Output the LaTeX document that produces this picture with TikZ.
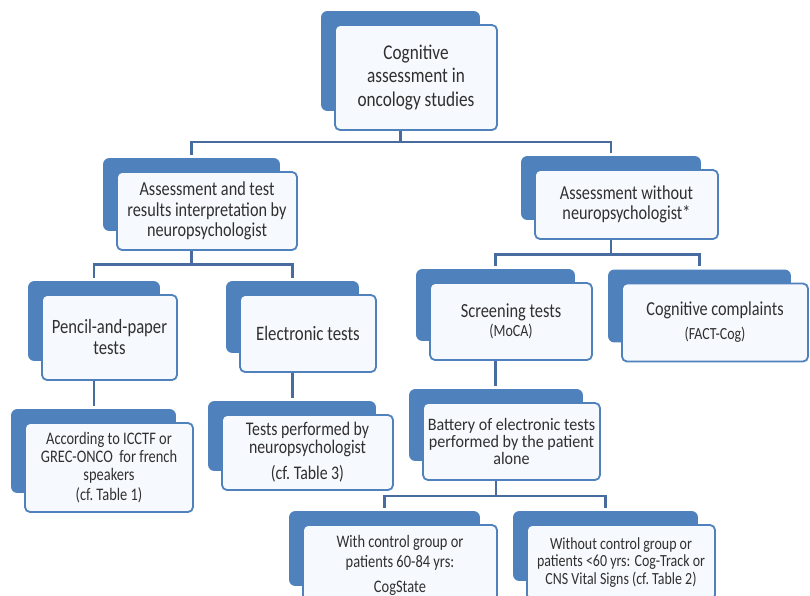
\documentclass[tikz,border=0pt]{standalone}
\usepackage{fontspec}
\setmainfont{Carlito}[FakeStretch=0.82]
\usepackage{tikz}
\usetikzlibrary{calc, fit, backgrounds}
\definecolor{TabColor}{RGB}{79,129,189}
\definecolor{EdgeColor}{RGB}{79,129,189}
\definecolor{CardColor}{RGB}{246,249,253}
\definecolor{LinkColor}{RGB}{72,108,160}
\definecolor{TextColor}{RGB}{48,48,48}
\newcommand{\boxfont}[2]{\fontsize{#1}{#2}\selectfont}
\tikzset{
    card/.style={
        shape=rectangle,
        draw=EdgeColor,
        line width=1.8pt,
        fill=CardColor,
        rounded corners=5pt,
        align=center,
        text=TextColor,
        inner sep=2pt
    },
    tab/.style={fill=TabColor, rounded corners=6pt, inner sep=0pt},
    link/.style={draw=LinkColor, line width=2.4pt, shorten >=3pt}
}

\begin{document}
\begin{tikzpicture}[x=1pt, y=-1pt]

\path[use as bounding box] (0,0) rectangle (810,595);

% Level 1
\node[card, minimum width=162, minimum height=105, font=\boxfont{21}{23.5}] (cog) at (416,77.5) {Cognitive\\assessment in\\oncology studies};

% Level 2
\node[card, minimum width=180, minimum height=78, font=\boxfont{19.8}{20.5}] (interp) at (207,211) {Assessment and test\\results interpretation by\\neuropsychologist};
\node[card, minimum width=183, minimum height=69, font=\boxfont{19.8}{20.5}] (nopsy) at (626.5,204.5) {Assessment without\\neuropsychologist*};

% Level 3
\node[card, minimum width=135, minimum height=85, font=\boxfont{20.3}{21}] (pencil) at (109.5,337.5) {Pencil-and-paper\\tests};
\node[card, minimum width=136, minimum height=77, font=\boxfont{20.5}{21}] (elec) at (308,333.5) {Electronic tests};
\node[card, minimum width=162, minimum height=77, font=\boxfont{20}{19}] (screen) at (511,321.5) {Screening tests\\{\boxfont{17}{18}(MoCA)}};
\node[card, minimum width=186, minimum height=78, font=\boxfont{19.8}{21}] (complaint) at (715,322.5) {Cognitive complaints\\[3pt]{\boxfont{17}{18}(FACT-Cog)}};

% Level 4
\node[card, minimum width=168, minimum height=89, font=\boxfont{17.6}{18}] (icctf) at (109,467.5) {According to ICCTF or\\GREC-ONCO\ \ for french\\speakers\\[2pt](cf.~Table~1)};
\node[card, minimum width=171, minimum height=75, font=\boxfont{19.3}{18}] (bynp) at (307.5,452.5) {Tests performed by\\neuropsychologist\\[8pt](cf.~Table~3)};
\node[card, minimum width=177, minimum height=77, font=\addfontfeature{FakeStretch=0.92}\boxfont{17.5}{16.8}] (battery) at (511.5,441.5) {Battery of electronic tests\\performed by the patient\\alone};

% Level 5
\node[card, minimum width=194, minimum height=80, font=\boxfont{17.6}{20}] (cogstate) at (400,565) {With control group or\\patients 60-84 yrs:\\[5pt]CogState};
\node[card, minimum width=188, minimum height=75, font=\boxfont{17}{17.5}] (vital) at (621,562.5) {Without control group or\\patients <60 yrs: Cog-Track or\\CNS Vital Signs (cf.~Table~2)};

% Tabs behind the cards
\begin{scope}[on background layer]
\fill[white] (0,0) rectangle (810,595);
\foreach \n in {cog, interp, nopsy, pencil, elec, screen, complaint, icctf, bynp, battery, cogstate, vital}
    \node[tab, fit={([shift={(-13,-13)}]\n.north west) ([shift={(-18,-20)}]\n.south east)}] (\n-tab) {};
\end{scope}

% Links
\coordinate (bus1) at ($(cog.south)!0.4!(interp-tab.north)$);
\draw[link] (cog-tab |- cog.south) -- (cog-tab |- bus1) -| (interp-tab.north);
\draw[link] (cog-tab |- bus1) -| (nopsy-tab.north);

\coordinate (bus2) at ($(interp.south)!0.45!(pencil-tab.north)$);
\draw[link] (interp-tab |- interp.south) -- (interp-tab |- bus2) -| (pencil-tab.north);
\draw[link] (interp-tab |- bus2) -| (elec-tab.north);

\coordinate (bus3) at ($(nopsy.south)!0.5!(screen-tab.north)$);
\draw[link] (nopsy-tab |- nopsy.south) -- (nopsy-tab |- bus3) -| (screen-tab.north);
\draw[link] (nopsy-tab |- bus3) -| (complaint-tab.north);

\draw[link] (pencil-tab |- pencil.south) -- (pencil-tab |- icctf-tab.north);
\draw[link] (elec-tab |- elec.south) -- (elec-tab |- bynp-tab.north);
\draw[link] (screen-tab |- screen.south) -- (screen-tab |- battery-tab.north);

\coordinate (bus4) at ($(battery.south)!0.5!(cogstate-tab.north)$);
\draw[link] (battery-tab |- battery.south) -- (battery-tab |- bus4) -| (cogstate-tab.north);
\draw[link] (battery-tab |- bus4) -| (vital-tab.north);

\end{tikzpicture}
\end{document}
